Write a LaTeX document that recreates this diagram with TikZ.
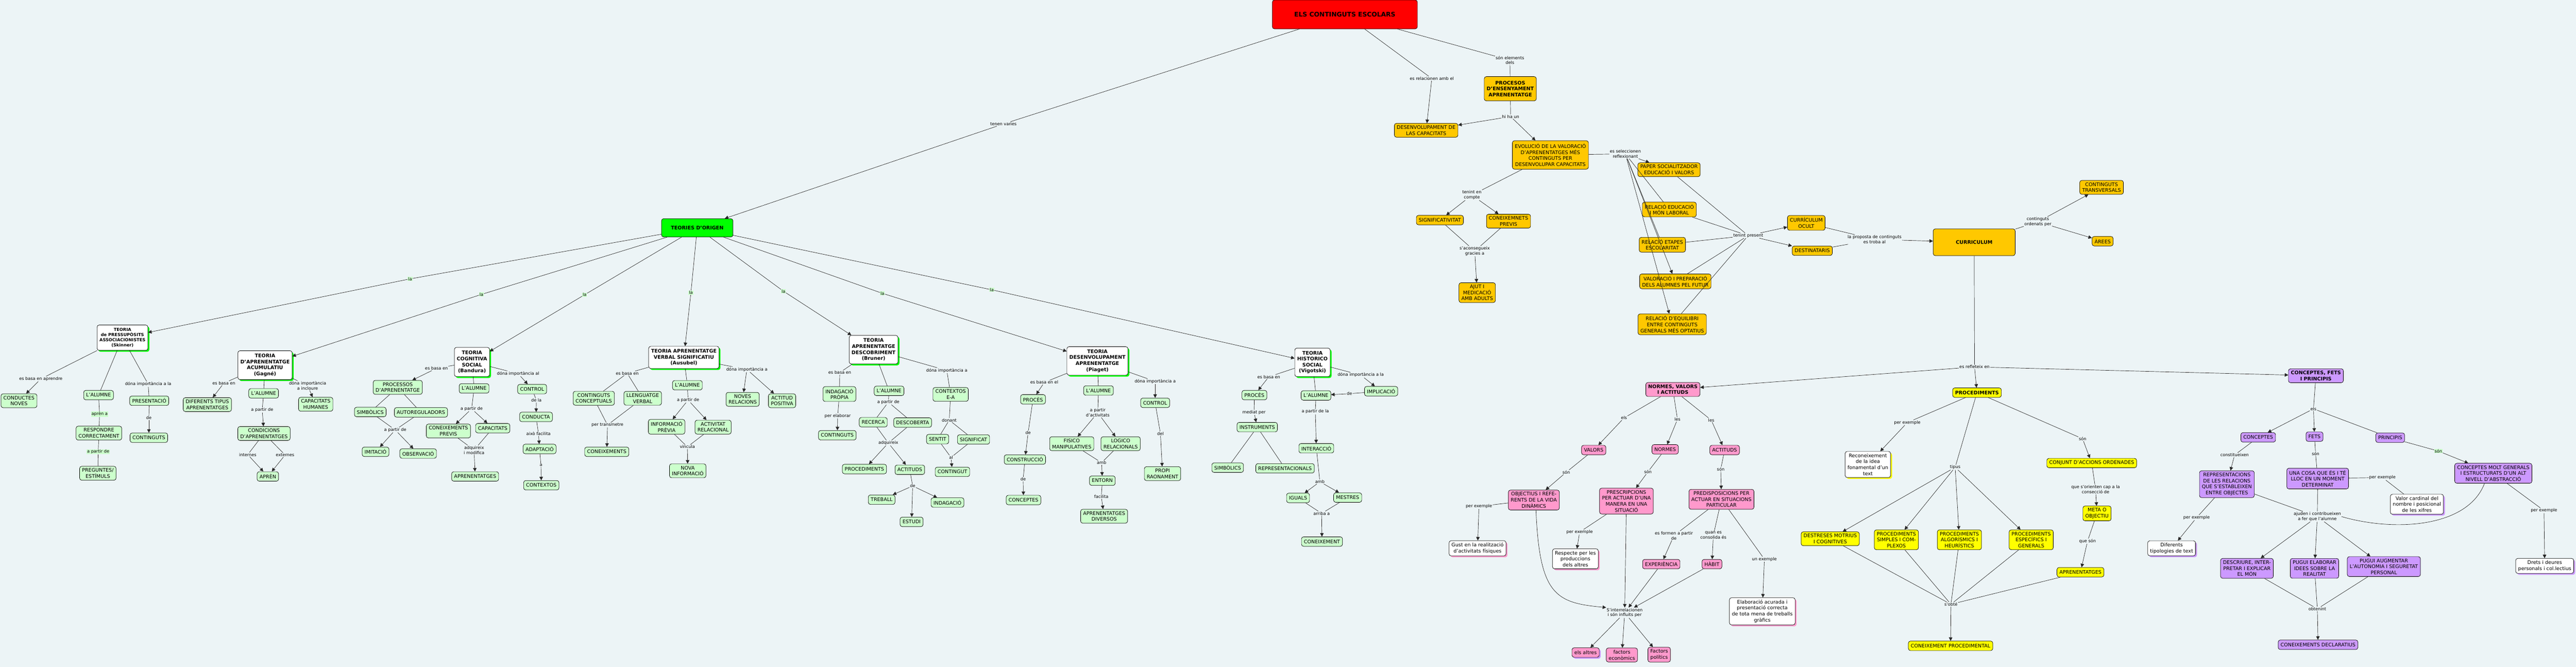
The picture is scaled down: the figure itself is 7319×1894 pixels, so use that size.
\documentclass[tikz,border=0pt]{standalone}
\usepackage{fontspec}
\setmainfont{DejaVu Sans}
\usetikzlibrary{arrows.meta,shadows}
\definecolor{bgc}{RGB}{236,244,246}
\definecolor{cOr}{RGB}{255,200,0}
\definecolor{cLG}{RGB}{204,255,204}
\definecolor{cGr}{RGB}{0,255,0}
\definecolor{cPk}{RGB}{255,153,204}
\definecolor{cYl}{RGB}{255,255,0}
\definecolor{cPu}{RGB}{204,153,255}
\definecolor{cRed}{RGB}{255,0,0}
\tikzset{
 bx/.style={draw=black,line width=1pt,rounded corners=6pt,align=center,font=\fontsize{14}{17}\selectfont,inner xsep=7pt,inner ysep=6pt,minimum height=27pt},
 bxb/.style={bx,font=\bfseries\fontsize{14}{17}\selectfont},
 org/.style={bx,fill=cOr},
 orgb/.style={bxb,fill=cOr},
 lg/.style={bx,fill=cLG},
 thr/.style={bxb,fill=white,drop shadow={shadow xshift=4pt,shadow yshift=-4pt,fill=cGr,opacity=1}},
 pk/.style={bx,fill=cPk},
 yl/.style={bx,fill=cYl},
 pu/.style={bx,fill=cPu},
 wpk/.style={bx,fill=white,drop shadow={shadow xshift=4pt,shadow yshift=-4pt,fill=cPk,opacity=1}},
 wyl/.style={bx,fill=white,drop shadow={shadow xshift=4pt,shadow yshift=-4pt,fill=cYl,opacity=1}},
 wpu/.style={bx,fill=white,drop shadow={shadow xshift=4pt,shadow yshift=-4pt,fill=cPu,opacity=1}},
 lab/.style={fill=bgc,inner sep=1.5pt,align=center,font=\fontsize{12}{14.5}\selectfont},
 labg/.style={lab,fill=cLG},
 ln/.style={line width=1pt,draw=black!85},
 arr/.style={-{Triangle[length=10pt,width=10pt]}}
}
\newcommand\LNK[2]{\draw[ln] (#1) -- (#2);}
\newcommand\ARW[2]{\draw[ln,arr] (#1) -- (#2);}
\begin{document}
\begin{tikzpicture}[x=1pt,y=-1pt]
\useasboundingbox (0,0) rectangle (7319,1894);
\fill[bgc] (0,0) rectangle (7319,1894);

% ---------------- top part
\node[bx,fill=cRed,font=\bfseries\fontsize{18}{22}\selectfont,minimum width=412pt,minimum height=82pt] (root) at (3821,41) {ELS CONTINGUTS ESCOLARS};
\node[lab] (Ltenen) at (2851,352) {tenen varies};
\node[bxb,fill=cGr,minimum width=203pt,minimum height=52pt] (teor) at (1981,647) {TEORIES D'ORIGEN};
\node[lab] (Lrel) at (4068,223) {es relacionen amb el};
\node[org] (desenv) at (4052,370) {DESENVOLUPAMENT DE\\LAS CAPACITATS};
\node[lab] (Lelem) at (4290,171) {són elements\\dels};
\node[orgb,minimum height=69pt] (proces) at (4291,252) {PROCESOS\\D'ENSENYAMENT\\APRENENTATGE};
\node[lab] (Lhiha) at (4292,331) {hi ha un};
\node[org,minimum height=81pt] (evol) at (4405,440) {EVOLUCIÓ DE LA VALORACIÓ\\D'APRENENTATGES MÉS\\CONTINGUTS PER\\DESENVOLUPAR CAPACITATS};
\node[lab] (Lsel) at (4618,437) {es seleccionen\\reflexionant};
\node[org] (paper) at (4742,482) {PAPER SOCIALITZADOR\\EDUCACIÓ I VALORS};
\node[org] (reledu) at (4743,595) {RELACIÓ EDUCACIÓ\\I MÓN LABORAL};
\node[org] (reletap) at (4723,695) {RELACIÓ ETAPES\\ESCOLARITAT};
\node[org] (valprep) at (4760,799) {VALORACIÓ I PREPARACIÓ\\DELS ALUMNES PEL FUTUR};
\node[org] (equil) at (4751,921) {RELACIÓ D'EQUILIBRI\\ENTRE CONTINGUTS\\GENERALS MÉS OPTATIUS};
\node[lab] (Ltp) at (4967,669) {tenint present};
\node[org] (ocult) at (5132,633) {CURRÍCULUM\\OCULT};
\node[org] (dest) at (5149,712) {DESTINATARIS};
\node[lab] (Lprop) at (5326,680) {la proposta de continguts\\es troba al};
\node[orgb,minimum width=233pt,minimum height=76pt] (curr) at (5609,688) {CURRICULUM};
\node[lab] (Lord) at (5790,630) {continguts\\ordenats per};
\node[org] (transv) at (5971,532) {CONTINGUTS\\TRANSVERSALS};
\node[org] (arees) at (5974,685) {ÀREES};
\node[lab] (Lcomp) at (4182,554) {tenint en\\compte};
\node[org] (signif) at (4091,625) {SIGNIFICATIVITAT};
\node[org] (coneixp) at (4286,628) {CONEIXEMNETS\\PREVIS};
\node[lab] (Lacons) at (4190,713) {s'aconsegueix\\gracies a};
\node[org] (ajut) at (4197,831) {AJUT I\\MEDICACIÓ\\AMB ADULTS};
\node[lab] (Lrefl) at (5610,1042) {es refleteix en};

\draw[ln] (root) -- (Ltenen); \ARW{Ltenen}{teor}
\LNK{root}{Lrel} \ARW{Lrel}{desenv}
\LNK{root}{Lelem} \LNK{Lelem}{proces}
\LNK{proces}{Lhiha} \ARW{Lhiha}{desenv} \ARW{Lhiha}{evol}
\LNK{evol}{Lsel} \ARW{Lsel}{paper} \LNK{Lsel}{reledu} \LNK{Lsel}{reletap} \ARW{Lsel}{valprep} \ARW{Lsel}{equil}
\LNK{paper}{Ltp} \LNK{reledu}{Ltp} \LNK{reletap}{Ltp} \LNK{valprep}{Ltp} \LNK{equil}{Ltp}
\ARW{Ltp}{ocult} \ARW{Ltp}{dest}
\LNK{ocult}{Lprop} \LNK{dest}{Lprop} \ARW{Lprop}{curr}
\LNK{curr}{Lord} \ARW{Lord}{transv} \ARW{Lord}{arees}
\LNK{evol}{Lcomp} \ARW{Lcomp}{signif} \ARW{Lcomp}{coneixp}
\LNK{signif}{Lacons} \LNK{coneixp}{Lacons} \ARW{Lacons}{ajut}
\LNK{curr}{Lrefl}

% ---------------- theories
\node[labg] (La1) at (1165,792) {la};
\node[labg] (La2) at (1368,836) {la};
\node[labg] (La3) at (1661,837) {la};
\node[labg] (La4) at (1963,831) {la};
\node[labg] (La5) at (2226,827) {la};
\node[labg] (La6) at (2507,833) {la};
\node[labg] (La7) at (2818,823) {la};
\node[thr,font=\bfseries\fontsize{12}{14.6}\selectfont,minimum height=72pt] (skin) at (348,959) {TEORIA\\de PRESSUPÒSITS\\ASSOCIACIONISTES\\(Skinner)};
\node[thr,minimum height=82pt] (gagne) at (753,1037) {TEORIA\\D'APRENENTATGE\\ACUMULATIU\\(Gagné)};
\node[thr,minimum height=83pt] (band) at (1341,1028) {TEORIA\\COGNITIVA\\SOCIAL\\(Bandura)};
\node[thr,minimum height=63pt] (ausu) at (1943,1015) {TEORIA APRENENTATGE\\VERBAL SIGNIFICATIU\\(Ausubel)};
\node[thr,minimum height=81pt] (brun) at (2482,993) {TEORIA\\APRENENTATGE\\DESCOBRIMENT\\(Bruner)};
\node[thr,minimum height=81pt] (piag) at (3118,1025) {TEORIA\\DESENVOLUPAMENT\\APRENENTATGE\\(Piaget)};
\node[thr,minimum height=81pt] (vigo) at (3729,1029) {TEORIA\\HISTORICO\\SOCIAL\\(Vigotski)};
\LNK{teor}{La1} \ARW{La1}{skin}
\LNK{teor}{La2} \ARW{La2}{gagne}
\LNK{teor}{La3} \ARW{La3}{band}
\LNK{teor}{La4} \ARW{La4}{ausu}
\LNK{teor}{La5} \ARW{La5}{brun}
\LNK{teor}{La6} \ARW{La6}{piag}
\LNK{teor}{La7} \ARW{La7}{vigo}

% Skinner
\node[lab] (Lskb) at (116,1076) {es basa en aprendre};
\node[lg] (condn) at (54,1138) {CONDUCTES\\NOVES};
\node[lg] (alS) at (280,1122) {L'ALUMNE};
\node[labg] (Lapr) at (283,1176) {aprèn a};
\node[lg] (resp) at (281,1230) {RESPONDRE\\CORRECTAMENT};
\node[labg] (Lskp) at (279,1283) {a partir de};
\node[lg] (preg) at (278,1344) {PREGUNTES/\\ESTÍMULS};
\node[lab] (Lskd) at (421,1091) {dóna importància a la};
\node[lg] (pres) at (424,1138) {PRESENTACIÓ};
\node[lab] (Lskde) at (423,1187) {de};
\node[lg] (contS) at (423,1243) {CONTINGUTS};
\LNK{skin}{Lskb} \ARW{Lskb}{condn}
\LNK{skin}{alS} \LNK{alS}{Lapr} \LNK{Lapr}{resp} \LNK{resp}{Lskp} \LNK{Lskp}{preg}
\LNK{skin}{Lskd} \LNK{Lskd}{pres} \LNK{pres}{Lskde} \ARW{Lskde}{contS}

% Gagne
\node[lab] (Lgb) at (636,1088) {es basa en};
\node[lg] (difer) at (589,1149) {DIFERENTS TIPUS\\APRENENTATGES};
\node[lg] (alG) at (749,1117) {L'ALUMNE};
\node[lab] (Lgp) at (745,1164) {a partir de};
\node[lg] (condic) at (750,1231) {CONDICIONS\\D'APRENENTATGES};
\node[lab] (Lint) at (704,1291) {internes};
\node[lab] (Lext) at (810,1292) {externes};
\node[lg] (apren) at (761,1353) {APRÈN};
\node[lab] (Lgd) at (874,1095) {dóna importància\\a incloure};
\node[lg] (caphum) at (897,1148) {CAPACITATS\\HUMANES};
\LNK{gagne}{Lgb} \ARW{Lgb}{difer}
\LNK{gagne}{alG} \LNK{alG}{Lgp} \ARW{Lgp}{condic}
\LNK{condic}{Lint} \ARW{Lint}{apren} \LNK{condic}{Lext} \ARW{Lext}{apren}
\LNK{gagne}{Lgd} \ARW{Lgd}{caphum}

% Bandura
\node[lab] (Lbb) at (1240,1046) {es basa en};
\node[lg] (procap) at (1130,1100) {PROCESSOS\\D'APRENENTATGE};
\node[lg] (simbB) at (1052,1170) {SIMBÒLICS};
\node[lg] (autor) at (1196,1171) {AUTOREGULADORS};
\node[lab] (Lbp1) at (1123,1221) {a partir de};
\node[lg] (imit) at (1067,1283) {IMITACIÓ};
\node[lg] (obser) at (1188,1288) {OBSERVACIÓ};
\node[lg] (alB) at (1347,1103) {L'ALUMNE};
\node[lab] (Lbp2) at (1340,1161) {a partir de};
\node[lg] (conpB) at (1274,1224) {CONEIXEMENTS\\PREVIS};
\node[lg] (capB) at (1400,1216) {CAPACITATS};
\node[lab] (Ladq) at (1347,1278) {adquireix\\i modifica};
\node[lg] (aprB) at (1350,1353) {APRENENTATGES};
\node[lab] (Lbd) at (1472,1061) {dóna importància al};
\node[lg] (ctrlB) at (1512,1105) {CONTROL};
\node[lab] (Ldela) at (1524,1137) {de la};
\node[lg] (cond) at (1523,1184) {CONDUCTA};
\node[lab] (Lfac) at (1530,1232) {això facilita};
\node[lg] (adapt) at (1533,1275) {ADAPTACIÓ};
\node[lab] (La) at (1537,1321) {a};
\node[lg] (contx) at (1538,1378) {CONTEXTOS};
\LNK{band}{Lbb} \ARW{Lbb}{procap}
\LNK{procap}{simbB} \LNK{procap}{autor}
\LNK{simbB}{Lbp1} \LNK{autor}{Lbp1} \ARW{Lbp1}{imit} \ARW{Lbp1}{obser}
\LNK{band}{alB} \LNK{alB}{Lbp2} \ARW{Lbp2}{conpB} \ARW{Lbp2}{capB}
\LNK{conpB}{Ladq} \LNK{capB}{Ladq} \ARW{Ladq}{aprB}
\LNK{band}{Lbd} \ARW{Lbd}{ctrlB} \LNK{ctrlB}{Ldela} \ARW{Ldela}{cond}
\LNK{cond}{Lfac} \ARW{Lfac}{adapt} \LNK{adapt}{La} \ARW{La}{contx}

% Ausubel
\node[lab] (Lab) at (1782,1060) {es basa en};
\node[lg] (cconc) at (1687,1131) {CONTINGUTS\\CONCEPTUALS};
\node[lg] (lleng) at (1826,1131) {LLENGUATGE\\VERBAL};
\node[lab] (Ltr) at (1726,1207) {per transmetre};
\node[lg] (coneA) at (1724,1283) {CONEIXEMENTS};
\node[lg] (alA) at (1953,1094) {L'ALUMNE};
\node[lab] (Lap) at (1955,1136) {a partir de};
\node[lg] (infop) at (1894,1212) {INFORMACIÓ\\PRÈVIA};
\node[lg] (actrel) at (2026,1213) {ACTIVITAT\\RELACIONAL};
\node[lab] (Lvinc) at (1953,1269) {vincula};
\node[lg] (novainf) at (1954,1337) {NOVA\\INFORMACIÓ};
\node[lab] (Lad) at (2122,1049) {dóna importància a};
\node[lg] (novrel) at (2110,1134) {NOVES\\RELACIONS};
\node[lg] (actpos) at (2222,1138) {ACTITUD\\POSITIVA};
\LNK{ausu}{Lab} \LNK{Lab}{cconc} \LNK{Lab}{lleng}
\LNK{cconc}{Ltr} \LNK{lleng}{Ltr} \ARW{Ltr}{coneA}
\LNK{ausu}{alA} \LNK{alA}{Lap} \ARW{Lap}{infop} \ARW{Lap}{actrel}
\LNK{infop}{Lvinc} \LNK{actrel}{Lvinc} \ARW{Lvinc}{novainf}
\LNK{ausu}{Lad} \ARW{Lad}{novrel} \ARW{Lad}{actpos}

% Bruner
\node[lab] (Lbrb) at (2386,1058) {es basa en};
\node[lg] (indp) at (2385,1119) {INDAGACIÓ\\PRÒPIA};
\node[lab] (Lelab) at (2380,1181) {per elaborar};
\node[lg] (contBr) at (2379,1236) {CONTINGUTS};
\node[lg] (alBr) at (2526,1110) {L'ALUMNE};
\node[lab] (Lbrp) at (2524,1142) {a partir de};
\node[lg] (recer) at (2481,1199) {RECERCA};
\node[lg] (descob) at (2593,1200) {DESCOBERTA};
\node[lab] (Ladqb) at (2524,1258) {adquireix};
\node[lg] (procBr) at (2456,1332) {PROCEDIMENTS};
\node[lg] (actBr) at (2585,1334) {ACTITUDS};
\node[lab] (Lbrde) at (2593,1380) {de};
\node[lg] (treb) at (2505,1419) {TREBALL};
\node[lg] (indBr) at (2692,1427) {INDAGACIÓ};
\node[lg] (estudi) at (2590,1482) {ESTUDI};
\node[lab] (Lbrd) at (2690,1052) {dóna importància a};
\node[lg] (contea) at (2701,1120) {CONTEXTOS\\E-A};
\node[lab] (Ldon) at (2697,1193) {donant};
\node[lg] (sentit) at (2664,1247) {SENTIT};
\node[lg] (signf) at (2766,1248) {SIGNIFICAT};
\node[lab] (Lal) at (2702,1299) {al};
\node[lg] (contgBr) at (2706,1340) {CONTINGUT};
\LNK{brun}{Lbrb} \LNK{Lbrb}{indp} \LNK{indp}{Lelab} \ARW{Lelab}{contBr}
\LNK{brun}{alBr} \LNK{alBr}{Lbrp} \LNK{Lbrp}{recer} \LNK{Lbrp}{descob}
\LNK{recer}{Ladqb} \LNK{descob}{Ladqb} \ARW{Ladqb}{procBr} \ARW{Ladqb}{actBr}
\LNK{actBr}{Lbrde} \ARW{Lbrde}{treb} \ARW{Lbrde}{indBr} \ARW{Lbrde}{estudi}
\LNK{brun}{Lbrd} \LNK{Lbrd}{contea} \LNK{contea}{Ldon} \LNK{Ldon}{sentit} \LNK{Ldon}{signf}
\LNK{sentit}{Lal} \LNK{signf}{Lal} \ARW{Lal}{contgBr}

% Piaget
\node[lab] (Lpb) at (2967,1086) {es basa en el};
\node[lg] (procP) at (2935,1134) {PROCÈS};
\node[lab] (Lpde1) at (2921,1229) {de};
\node[lg] (constr) at (2912,1305) {CONSTRUCCIÓ};
\node[lab] (Lpde2) at (2907,1361) {de};
\node[lg] (concP) at (2908,1420) {CONCEPTES};
\node[lg] (alP) at (3121,1109) {L'ALUMNE};
\node[lab] (Lpact) at (3119,1172) {a partir\\d'activitats};
\node[lg] (fisico) at (3045,1260) {FISICO\\MANIPULATIVES};
\node[lg] (logico) at (3184,1260) {LOGICO\\RELACIONALS};
\node[lab] (Lpamb) at (3130,1314) {amb};
\node[lg] (entorn) at (3132,1365) {ENTORN};
\node[lab] (Lpfac) at (3129,1410) {facilita};
\node[lg] (apdiv) at (3137,1466) {APRENENTATGES\\DIVERSOS};
\node[lab] (Lpd) at (3282,1083) {dóna importància a};
\node[lg] (ctrlP) at (3282,1144) {CONTROL};
\node[lab] (Ldel) at (3297,1231) {del};
\node[lg] (propi) at (3303,1345) {PROPI\\RAONAMENT};
\LNK{piag}{Lpb} \ARW{Lpb}{procP} \LNK{procP}{Lpde1} \ARW{Lpde1}{constr} \LNK{constr}{Lpde2} \ARW{Lpde2}{concP}
\LNK{piag}{alP} \LNK{alP}{Lpact} \ARW{Lpact}{fisico} \ARW{Lpact}{logico}
\LNK{fisico}{Lpamb} \LNK{logico}{Lpamb} \ARW{Lpamb}{entorn} \LNK{entorn}{Lpfac} \ARW{Lpfac}{apdiv}
\LNK{piag}{Lpd} \ARW{Lpd}{ctrlP} \LNK{ctrlP}{Ldel} \ARW{Ldel}{propi}

% Vigotski
\node[lab] (Lvb) at (3605,1070) {es basa en};
\node[lg] (procV) at (3564,1122) {PROCÈS};
\node[lab] (Lmed) at (3563,1171) {mediat per};
\node[lg] (instr) at (3572,1213) {INSTRUMENTS};
\node[lg] (simbV) at (3488,1328) {SIMBÒLICS};
\node[lg] (repres) at (3651,1330) {REPRESENTACIONALS};
\node[lg] (alV) at (3739,1123) {L'ALUMNE};
\node[lab] (Lvp) at (3737,1169) {a partir de la};
\node[lg] (interac) at (3740,1273) {INTERACCIÓ};
\node[lab] (Lvamb) at (3750,1368) {amb};
\node[lg] (iguals) at (3688,1414) {IGUALS};
\node[lg] (mestres) at (3829,1413) {MESTRES};
\node[lab] (Larr) at (3755,1458) {arriba a};
\node[lg] (coneV) at (3756,1538) {CONEIXEMENT};
\node[lab] (Lvd) at (3866,1065) {dóna importància a la};
\node[lg] (implic) at (3924,1111) {IMPLICACIÓ};
\node[lab] (Lvde) at (3834,1118) {de};
\LNK{vigo}{Lvb} \ARW{Lvb}{procV} \LNK{procV}{Lmed} \ARW{Lmed}{instr}
\LNK{instr}{simbV} \LNK{instr}{repres}
\LNK{vigo}{alV} \LNK{alV}{Lvp} \ARW{Lvp}{interac} \LNK{interac}{Lvamb} \ARW{Lvamb}{iguals} \ARW{Lvamb}{mestres}
\LNK{iguals}{Larr} \LNK{mestres}{Larr} \ARW{Larr}{coneV}
\LNK{vigo}{Lvd} \ARW{Lvd}{implic} \LNK{implic}{Lvde} \ARW{Lvde}{alV}

% ---------------- normes, valors i actituds
\node[pk,font=\bfseries\fontsize{14}{17}\selectfont] (nva) at (4753,1106) {NORMES, VALORS\\I ACTITUDS};
\node[lab] (Lels) at (4614,1187) {els};
\node[lab] (Lles1) at (4766,1191) {les};
\node[lab] (Lles2) at (4862,1193) {les};
\node[pk] (valors) at (4528,1278) {VALORS};
\node[pk] (normes) at (4731,1276) {NORMES};
\node[pk] (actN) at (4900,1278) {ACTITUDS};
\node[lab] (Lson1) at (4450,1341) {són};
\node[lab] (Lson2) at (4682,1340) {són};
\node[lab] (Lson3) at (4889,1332) {són};
\node[pk] (objec) at (4358,1420) {OBJECTIUS I REFE-\\RENTS DE LA VIDA\\DINÀMICS};
\node[pk] (presc) at (4621,1423) {PRESCRIPCIONS\\PER ACTUAR D'UNA\\MANERA EN UNA\\SITUACIÓ};
\node[pk] (predis) at (4891,1418) {PREDISPOSICIONS PER\\ACTUAR EN SITUACIONS\\PARTICULAR};
\node[lab] (Lpe1) at (4202,1438) {per exemple};
\node[wpk] (gust) at (4198,1557) {Gust en la realització\\d'activitats físiques};
\node[lab] (Lpe2) at (4488,1511) {per exemple};
\node[wpk] (respec) at (4476,1587) {Respecte per les\\produccions\\dels altres};
\node[lab] (Lform) at (4756,1521) {es formen a partir\\de};
\node[pk] (exper) at (4720,1602) {EXPERIÈNCIA};
\node[lab] (Lcons) at (4868,1520) {quan es\\consolida és};
\node[pk] (habit) at (4864,1602) {HÀBIT};
\node[lab] (Lunex) at (5013,1588) {un exemple};
\node[wpk] (elab) at (5007,1736) {Elaboració acurada i\\presentació correcta\\de tota mena de treballs\\gràfics};
\node[lab] (Linter) at (4616,1740) {S'interrelacionen\\i són influits per};
\node[pk,drop shadow={shadow xshift=4pt,shadow yshift=-4pt,fill=cPu,opacity=1}] (altres) at (4505,1853) {els altres};
\node[pk] (fecon) at (4608,1860) {factors\\econòmics};
\node[pk] (fpol) at (4714,1859) {Factors\\polítics};
\ARW{Lrefl}{nva}
\LNK{nva}{Lels} \ARW{Lels}{valors} \LNK{nva}{Lles1} \ARW{Lles1}{normes} \LNK{nva}{Lles2} \ARW{Lles2}{actN}
\LNK{valors}{Lson1} \ARW{Lson1}{objec} \LNK{normes}{Lson2} \ARW{Lson2}{presc} \LNK{actN}{Lson3} \ARW{Lson3}{predis}
\LNK{objec}{Lpe1} \ARW{Lpe1}{gust}
\LNK{presc}{Lpe2} \ARW{Lpe2}{respec}
\LNK{predis}{Lform} \ARW{Lform}{exper}
\LNK{predis}{Lcons} \ARW{Lcons}{habit}
\LNK{predis}{Lunex} \ARW{Lunex}{elab}
\draw[ln,arr] ([xshift=6pt]objec.south) .. controls (4374,1690) and (4420,1712) .. (Linter.north west);
\ARW{presc}{Linter} \ARW{exper}{Linter} \ARW{habit}{Linter}
\ARW{Linter}{altres} \ARW{Linter}{fecon} \ARW{Linter}{fpol}

% ---------------- procediments
\node[yl,font=\bfseries\fontsize{14}{17}\selectfont] (proc) at (5617,1115) {PROCEDIMENTS};
\node[lab] (Lpe3) at (5419,1200) {per exemple};
\node[wyl] (recon) at (5307,1319) {Reconeixement\\de la idea\\fonamental d'un\\text};
\node[lab] (Ltip) at (5555,1327) {tipus};
\node[yl] (destr) at (5200,1530) {DESTRESES MOTRIUS\\I COGNITIVES};
\node[yl] (simpl) at (5388,1533) {PROCEDIMENTS\\SIMPLES I COM-\\PLEXOS};
\node[yl] (algor) at (5567,1533) {PROCEDIMENTS\\ALGORÍSMICS I\\HEURÍSTICS};
\node[yl] (espec) at (5771,1533) {PROCEDIMENTS\\ESPECÍFICS I\\GENERALS};
\node[lab] (Lobte) at (5543,1716) {s'obté};
\node[yl] (cproc) at (5542,1834) {CONEIXEMENT PROCEDIMENTAL};
\node[lab] (Lsonp) at (5917,1246) {són};
\node[yl] (conjunt) at (5943,1315) {CONJUNT D'ACCIONS ORDENADES};
\node[lab] (Lorient) at (5954,1390) {que s'orienten cap a la\\consecció de};
\node[yl] (meta) at (5958,1458) {META O\\OBJECTIU};
\node[lab] (Lqson) at (5931,1537) {que són};
\node[yl] (aprY) at (5911,1625) {APRENENTATGES};
\ARW{Lrefl}{proc}
\LNK{proc}{Lpe3} \ARW{Lpe3}{recon}
\LNK{proc}{Ltip} \ARW{Ltip}{destr} \ARW{Ltip}{simpl} \ARW{Ltip}{algor} \ARW{Ltip}{espec}
\LNK{destr}{Lobte} \LNK{simpl}{Lobte} \LNK{algor}{Lobte} \LNK{espec}{Lobte} \LNK{aprY}{Lobte}
\ARW{Lobte}{cproc}
\LNK{proc}{Lsonp} \ARW{Lsonp}{conjunt} \LNK{conjunt}{Lorient} \ARW{Lorient}{meta} \LNK{meta}{Lqson} \ARW{Lqson}{aprY}

% ---------------- conceptes, fets i principis
\node[pu,font=\bfseries\fontsize{14}{17}\selectfont] (cfp) at (6580,1067) {CONCEPTES, FETS\\I PRINCIPIS};
\node[lab] (Lelsc) at (6573,1161) {els};
\node[pu] (concC) at (6416,1242) {CONCEPTES};
\node[pu] (fets) at (6576,1240) {FETS};
\node[pu] (princ) at (6791,1243) {PRINCIPIS};
\node[lab] (Lconst) at (6349,1292) {constitueixen};
\node[pu] (reprel) at (6327,1375) {REPRESENTACIONS\\DE LES RELACIONS\\QUE S'ESTABLEIXEN\\ENTRE OBJECTES};
\node[lab] (Lsonf) at (6579,1288) {són};
\node[pu] (unacosa) at (6585,1359) {UNA COSA QUE ÉS I TÉ\\LLOC EN UN MOMENT\\DETERMINAT};
\node[lab] (Lpe4) at (6769,1356) {per exemple};
\node[wpu] (valc) at (6867,1432) {Valor cardinal del\\nombre i posicional\\de les xifres};
\node[labg] (Lsonpr) at (6928,1281) {són};
\node[pu] (cmg) at (7084,1344) {CONCEPTES MOLT GENERALS\\I ESTRUCTURATS D'UN ALT\\NIVELL D'ABSTRACCIÓ};
\node[lab] (Lpe5) at (7228,1450) {per exemple};
\node[wpu] (drets) at (7230,1607) {Drets i deures\\personals i col.lectius};
\node[lab] (Lpe6) at (6241,1470) {per exemple};
\node[wpu] (diftip) at (6170,1557) {Diferents\\tipologies de text};
\node[lab] (Lajud) at (6584,1467) {ajuden i contribueixen\\a fer que l'alumne};
\node[pu] (descr) at (6384,1614) {DESCRIURE, INTER-\\PRETAR I EXPLICAR\\EL MÓN};
\node[pu] (pelab) at (6576,1614) {PUGUI ELABORAR\\IDEES SOBRE LA\\REALITAT};
\node[pu] (paug) at (6773,1609) {PUGUI AUGMENTAR\\L'AUTONOMIA I SEGURETAT\\PERSONAL};
\node[lab] (Lobt) at (6584,1729) {obtenint};
\node[pu] (cdecl) at (6586,1831) {CONEIXEMENTS DECLARATIUS};
\ARW{Lrefl}{cfp}
\LNK{cfp}{Lelsc} \ARW{Lelsc}{concC} \ARW{Lelsc}{fets} \LNK{Lelsc}{princ}
\LNK{concC}{Lconst} \ARW{Lconst}{reprel}
\LNK{fets}{Lsonf} \LNK{Lsonf}{unacosa}
\LNK{princ}{Lsonpr} \ARW{Lsonpr}{cmg}
\LNK{unacosa}{Lpe4} \LNK{Lpe4}{valc}
\LNK{cmg}{Lpe5} \ARW{Lpe5}{drets}
\LNK{reprel}{Lpe6} \ARW{Lpe6}{diftip}
\LNK{reprel}{Lajud} \LNK{unacosa}{Lajud}
\draw[ln] ([xshift=-25pt]cmg.south) .. controls (7010,1500) and (6800,1510) .. (Lajud.east);
\ARW{Lajud}{descr} \ARW{Lajud}{pelab} \ARW{Lajud}{paug}
\LNK{descr}{Lobt} \LNK{pelab}{Lobt} \LNK{paug}{Lobt} \ARW{Lobt}{cdecl}
\end{tikzpicture}
\end{document}
